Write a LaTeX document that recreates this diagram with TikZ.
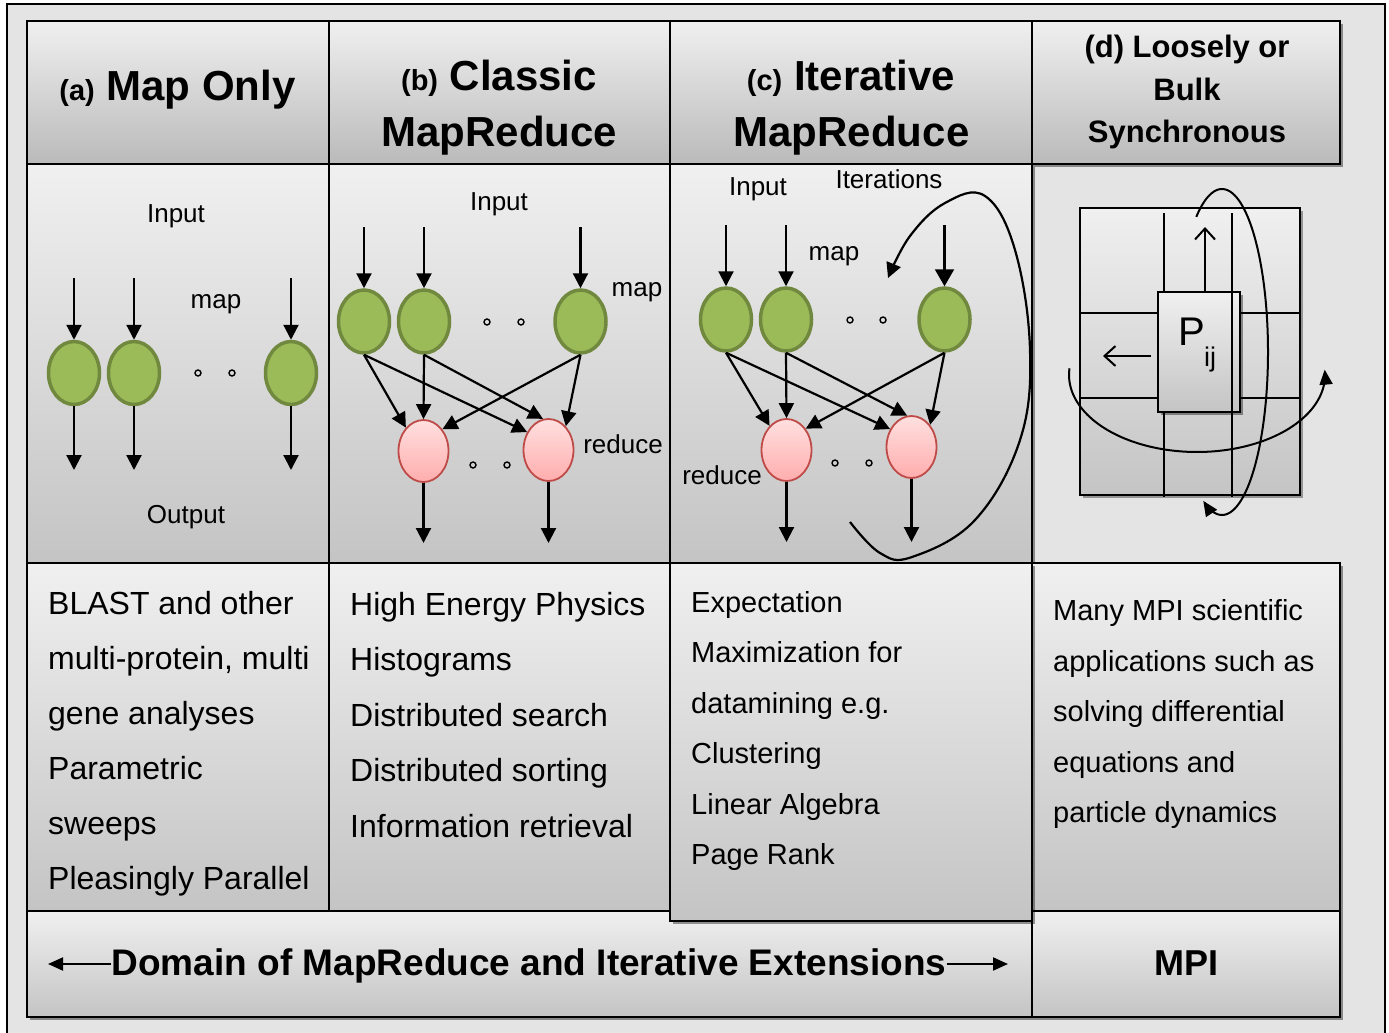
\documentclass[tikz,border=0pt]{standalone}
\usepackage{fontspec}
\setmainfont{Liberation Sans}
\usetikzlibrary{shapes.geometric,arrows.meta,shadows}
\newcommand{\setfs}[1]{\fontsize{#1}{#1}\selectfont}
\definecolor{framebg}{HTML}{E4E4E4}
\definecolor{boxtop}{HTML}{F0F0F0}
\definecolor{boxbot}{HTML}{C4C4C4}
\definecolor{headbot}{HTML}{BABABA}
\definecolor{mapfill}{HTML}{9BBB59}
\definecolor{mapline}{HTML}{71893F}
\definecolor{redtop}{HTML}{FFE0E0}
\definecolor{redbot}{HTML}{FFADAD}
\definecolor{redline}{HTML}{BE4B48}
\tikzset{
  panel/.style={draw=black,line width=1.6pt,top color=boxtop,bottom color=boxbot,
    drop shadow={shadow xshift=3pt,shadow yshift=-3pt,opacity=.4,fill=black}},
  headpanel/.style={panel,bottom color=headbot},
  mapn/.style={ellipse,draw=mapline,fill=mapfill,line width=3.5pt,
    minimum width=51pt,minimum height=63pt,inner sep=0pt},
  redn/.style={ellipse,draw=redline,top color=redtop,bottom color=redbot,
    line width=1.8pt,minimum width=50pt,minimum height=62pt,inner sep=0pt},
  arr/.style={line width=2.2pt,-{Triangle[length=15pt,width=15pt]}},
  bigarr/.style={line width=2.2pt,-{Triangle[length=17pt,width=19pt]}},
  openarr/.style={line width=2pt,-{Straight Barb[length=11pt,width=20pt,line width=2pt]}},
  smallarr/.style={line width=2pt,-{Triangle[length=15pt,width=13pt]}},
  dotc/.style={line width=1.4pt},
  lbl/.style={inner sep=0pt,font=\setfs{26}},
  head/.style={anchor=base,inner sep=0pt,font=\bfseries\setfs{42}},
  headd/.style={anchor=base,inner sep=0pt,font=\bfseries\setfs{31}},
  body/.style={anchor=base west,inner sep=0pt,font=\setfs{32}},
  bodys/.style={anchor=base west,inner sep=0pt,font=\setfs{29}},
  gridline/.style={line width=2pt},
}
\begin{document}
\begin{tikzpicture}[x=1pt,y=-1pt]
\useasboundingbox (0,0) rectangle (1389,1033);

% outer frame
\path[draw=black,line width=1.5pt,fill=framebg] (7,4) rectangle (1385,1045);

% header row
\path[headpanel] (27,21) rectangle (329,164);
\path[headpanel] (329,21) rectangle (670,164);
\path[headpanel] (670,21) rectangle (1032,164);
\path[headpanel] (1032,21) rectangle (1340,164);

\node[head] (ha) at (177.5,100) {{\setfs{29}(a)} Map Only};
\node[head] (hb1) at (499,90) {{\setfs{29}(b)} Classic};
\node[head] (hb2) at (499.5,146) {MapReduce};
\node[head] (hc1) at (851,90) {{\setfs{29}(c)} Iterative};
\node[head] (hc2) at (851.5,146) {MapReduce};
\node[headd] (hd1) at (1187,58) {(d) Loosely or};
\node[headd] (hd2) at (1187,100) {Bulk};
\node[headd] (hd3) at (1187,142) {Synchronous};

% diagram panels
\path[panel] (27,164) rectangle (329,563);
\path[panel] (329,164) rectangle (670,563);
\path[panel] (670,164) rectangle (1032,563);

% text panels
\path[panel] (27,563) rectangle (329,911);
\path[panel] (329,563) rectangle (670,911);
\path[panel] (1032,563) rectangle (1340,911);

% bottom band
\path[panel] (27,911) rectangle (1032,1017);
\path[panel] (1032,911) rectangle (1340,1017);

% third text panel overlaps the band
\path[panel] (670,563) rectangle (1032,921);

% ---------- (a) map only ----------
\foreach \n/\x in {a1/74,a2/134,a3/291}{
  \node[mapn] (\n) at (\x,373) {};
  \coordinate (\n-in) at (\x,278);
  \coordinate (\n-out) at (\x,470);
  \draw[arr] (\n-in) -- (\n);
  \draw[arr] (\n) -- (\n-out);
}
\draw[dotc] (198,373) circle[radius=3pt] (232,373) circle[radius=3pt];
\node[lbl] (ain) at (176,216) {Input};
\node[lbl] (amap) at (216,304) {map};
\node[lbl] (aout) at (186,517) {Output};

% ---------- (b) classic mapreduce ----------
\foreach \n/\x in {b1/364,b2/424,b3/580.5}{
  \node[mapn] (\n) at (\x,321.5) {};
  \coordinate (\n-in) at (\x,227);
  \draw[arr] (\n-in) -- (\n);
}
\node[redn] (rb1) at (423.5,451) {};
\node[redn] (rb2) at (548.5,450) {};
\coordinate (rb1-out) at (423.5,543);
\coordinate (rb2-out) at (548.5,543);
\draw[arr] (rb1) -- (rb1-out);
\draw[arr] (rb2) -- (rb2-out);
\draw[arr] (b1.south) -- (rb1.127);
\draw[arr] (b1.south) -- (rb2.140);
\draw[arr] (b2.south) -- (rb1.90);
\draw[arr] (b2.south) -- (rb2.100);
\draw[arr] (b3.south) -- (rb1.49);
\draw[arr] (b3.south) -- (rb2.54);
\draw[dotc] (487,322) circle[radius=3pt] (521,322) circle[radius=3pt];
\draw[dotc] (473,465) circle[radius=3pt] (507,465) circle[radius=3pt];
\node[lbl] (bin) at (499,204) {Input};
\node[lbl] (bmap) at (637,292) {map};
\node[lbl] (bred) at (623,444) {reduce};

% ---------- (c) iterative mapreduce ----------
\foreach \n/\x in {c1/726,c2/786,c3/944.5}{
  \node[mapn] (\n) at (\x,319.5) {};
  \coordinate (\n-in) at (\x,225);
}
\draw[arr] (c1-in) -- (c1);
\draw[arr] (c2-in) -- (c2);
\draw[bigarr] (c3-in) -- (c3);
\node[redn] (rc1) at (786.5,450) {};
\node[redn] (rc2) at (911.5,447) {};
\coordinate (rc1-out) at (786.5,542);
\coordinate (rc2-out) at (911.5,542);
\draw[arr] (rc1) -- (rc1-out);
\draw[arr] (rc2) -- (rc2-out);
\draw[arr] (c1.south) -- (rc1.125);
\draw[arr] (c1.south) -- (rc2.140);
\draw[arr] (c2.south) -- (rc1.90);
\draw[arr] (c2.south) -- (rc2.98);
\draw[arr] (c3.south) -- (rc1.48);
\draw[arr] (c3.south) -- (rc2.50);
\draw[dotc] (850,320) circle[radius=3pt] (883,320) circle[radius=3pt];
\draw[dotc] (835,463) circle[radius=3pt] (869,463) circle[radius=3pt];
% feedback loop of the iterations
\draw[arr] plot[smooth,tension=0.65] coordinates
  {(850,522) (880,553) (912,557) (975,520) (1020,440) (1030,350) (1015,250) (985,196) (945,203) (910,236) (888,278)};
\node[lbl] (cin) at (758,189) {Input};
\node[lbl] (citer) at (889,179) {Iterations};
\node[lbl] (cmap) at (834,256) {map};
\node[lbl] (cred) at (722,475) {reduce};

% ---------- (d) loosely / bulk synchronous ----------
\path[draw=black,line width=2pt,top color=boxtop,bottom color=boxbot,
  drop shadow={shadow xshift=3pt,shadow yshift=-3pt,opacity=.35,fill=black}]
  (1080,208) rectangle (1300,495);
\draw[gridline] (1164,213) -- (1164,497);
\draw[gridline] (1232,213) -- (1232,497);
\draw[gridline] (1080,313) -- (1300,313);
\draw[gridline] (1080,398) -- (1300,398);
\node[draw=black,line width=2pt,top color=boxtop,bottom color=boxbot,
  minimum width=82pt,minimum height=120pt,inner sep=0pt,
  drop shadow={shadow xshift=3pt,shadow yshift=-3pt,opacity=.4,fill=black}]
  (pij) at (1199,352) {};
\draw[gridline] (1232,292) -- (1232,412);
\node[inner sep=0pt,font=\setfs{40}] (ptxt) at (1192,332) {P};
\node[inner sep=0pt,font=\setfs{27}] (psub) at (1210,360) {ij};
\coordinate (pup) at (1205,227);
\coordinate (pleft) at (1103,356);
\draw[openarr] ([xshift=6pt]pij.north) -- (pup);
\draw[openarr,shorten <=6pt] ([yshift=-4pt]pij.west) -- (pleft);
% horizontal exchange loop
\draw[line width=2pt,-{Triangle[length=15pt,width=13pt]}]
  plot[domain=0:189,samples=80,smooth] ({1197+128*cos(185-\x)},{375+77*sin(185-\x)});
% vertical exchange loop
\draw[line width=2pt,-{Triangle[length=15pt,width=13pt]}]
  plot[domain=0:238,samples=100,smooth] ({1222+46*cos(-124+\x)},{352+163*sin(-124+\x)});

% ---------- text panels ----------
\foreach \t [count=\i from 0] in {BLAST and other,{multi-protein, multi},gene analyses,Parametric,sweeps,Pleasingly Parallel}
  \node[body] (ta\i) at (48,{614+55.1*\i}) {\t};
\foreach \t [count=\i from 0] in {High Energy Physics,Histograms,Distributed search,Distributed sorting,Information retrieval}
  \node[body] (tb\i) at (350,{615+55.5*\i}) {\t};
\foreach \t [count=\i from 0] in {Expectation,Maximization for,datamining e.g.,Clustering,Linear Algebra,Page Rank}
  \node[bodys] (tc\i) at (691,{612.5+50.4*\i}) {\t};
\foreach \t [count=\i from 0] in {Many MPI scientific,applications such as,solving differential,equations and,particle dynamics}
  \node[bodys] (td\i) at (1053,{620.5+50.5*\i}) {\t};

% ---------- bottom band ----------
\node[anchor=base,inner sep=0pt,font=\bfseries\setfs{37}] (dom) at (529,975)
  {Domain of MapReduce and Iterative Extensions};
\coordinate (domL) at (48,964);
\coordinate (domR) at (1008,964);
\draw[smallarr] (dom.west |- domL) -- (domL);
\draw[smallarr] (dom.east |- domR) -- (domR);
\node[anchor=base,inner sep=0pt,font=\bfseries\setfs{36}] (mpi) at (1186,975) {MPI};
\end{tikzpicture}
\end{document}
